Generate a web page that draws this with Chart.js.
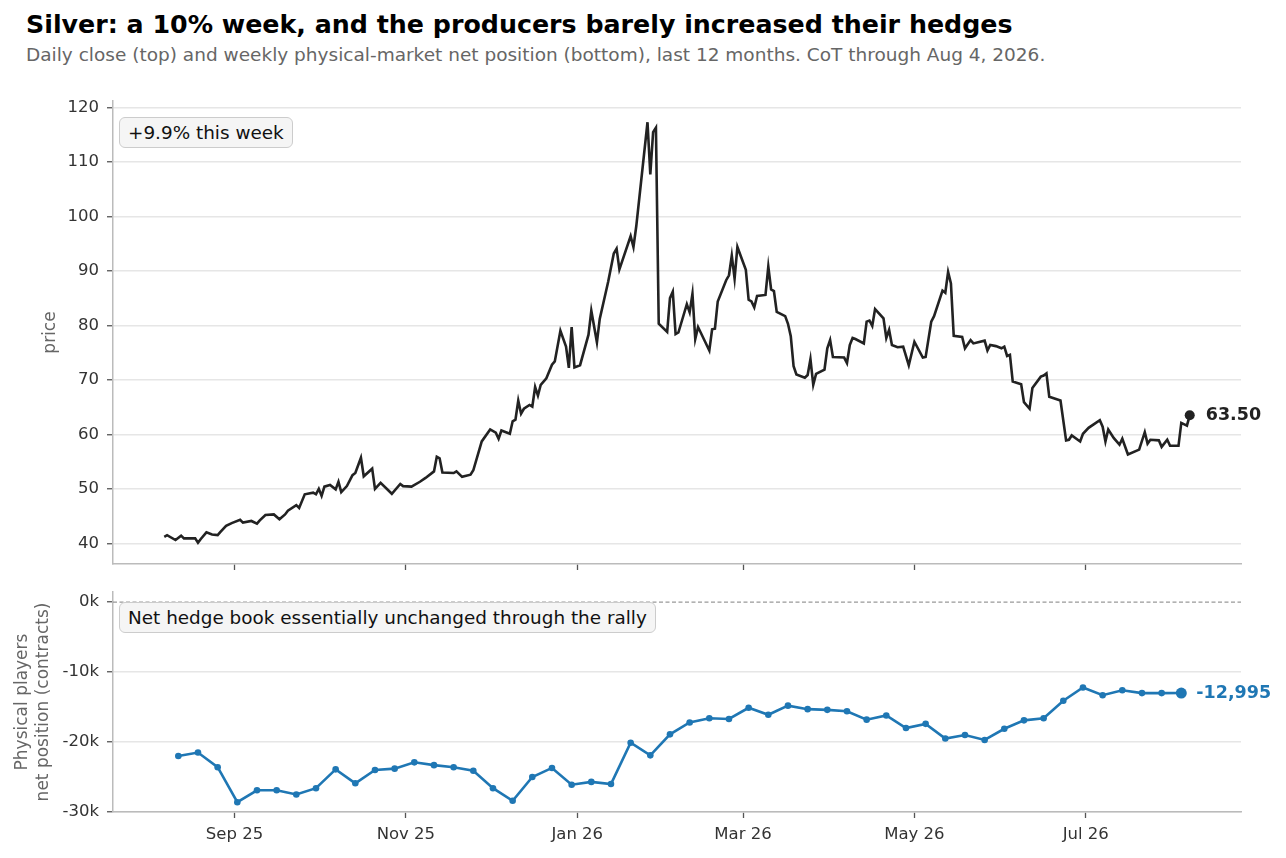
<!DOCTYPE html>
<html lang="en">
<head>
<meta charset="UTF-8">
<title>Silver: price and physical-market net position</title>
<script src="https://cdn.jsdelivr.net/npm/chart.js"></script>
<style>
  body { margin: 0; background: #fff; font-family: "DejaVu Sans", sans-serif; }
  #page { position: relative; width: 1286px; height: 858px; overflow: hidden; }
  .title { position: absolute; left: 26px; top: 12px; font-size: 25.3px; line-height: 25px; font-weight: bold; color: #000; white-space: nowrap; }
  .subtitle { position: absolute; left: 26px; top: 46px; font-size: 18.5px; line-height: 18px; color: #666; white-space: nowrap; }
  canvas { position: absolute; left: 0; }
  .note { position: absolute; left: 119px; height: 29px; padding: 0 8px; display: flex; align-items: center;
          background: #f5f5f5; border: 1.5px solid #ccc; border-radius: 6px; font-size: 18.4px; color: #111; white-space: nowrap; }
</style>
</head>
<body>
<div id="page">
  <div class="title">Silver: a 10% week, and the producers barely increased their hedges</div>
  <div class="subtitle">Daily close (top) and weekly physical-market net position (bottom), last 12 months. CoT through Aug 4, 2026.</div>
  <canvas id="priceChart" width="1286" height="590" style="top:0"></canvas>
  <canvas id="cotChart" width="1286" height="278" style="top:580px"></canvas>
  <div class="note" style="top:117px">+9.9% this week</div>
  <div class="note" style="top:602px">Net hedge book essentially unchanged through the rally</div>
</div>

<script>
    // daily close, turning points of the line; days are calendar days after startDate
    const startDate = '2025-08-07';
    const priceDay = [0, 1, 4, 6, 7, 11, 12, 13, 15, 17, 19, 20, 22, 24, 27, 28, 31, 33, 34, 36,
        39, 41, 43, 44, 47, 48, 50, 53, 54, 55, 56, 57, 59, 61, 62, 63, 65, 67, 68, 70,
        71, 74, 75, 77, 81, 84, 85, 88, 91, 93, 96, 97, 98, 99, 103, 104, 106, 109, 110, 113,
        116, 118, 119, 120, 123, 124, 125, 126, 127, 128, 130, 131, 132, 133, 134, 136, 138, 139, 141, 143,
        144, 145, 146, 148, 151, 152, 154, 155, 158, 160, 161, 162, 166, 167, 168, 172, 173, 174, 175, 176,
        179, 180, 181, 182, 183, 186, 187, 188, 189, 190, 194, 195, 196, 197, 200, 201, 202, 203, 204, 207,
        208, 209, 210, 211, 214, 215, 216, 217, 218, 221, 222, 223, 224, 225, 228, 229, 230, 231, 232, 235,
        236, 237, 238, 242, 243, 244, 245, 246, 249, 250, 251, 252, 253, 256, 257, 258, 259, 261, 263, 265,
        267, 270, 271, 273, 274, 277, 278, 279, 280, 281, 284, 285, 287, 288, 292, 293, 294, 296, 298, 299,
        300, 301, 302, 305, 306, 308, 309, 312, 313, 314, 315, 319, 321, 322, 323, 326, 327, 329, 333, 334,
        335, 336, 338, 340, 341, 343, 347, 349, 350, 351, 354, 355, 357, 358, 361, 362, 364, 365];
    const priceClose = [41.2, 41.5, 40.6, 41.4, 40.9, 40.9, 40.1, 40.8, 42.0, 41.6, 41.5, 42.1, 43.2, 43.7, 44.3, 43.8, 44.1, 43.6, 44.2, 45.2,
        45.3, 44.4, 45.3, 46.0, 47.0, 46.5, 49.0, 49.3, 49.0, 50.0, 48.7, 50.4, 50.7, 49.9, 51.3, 49.4, 50.5, 52.5, 52.9, 55.7,
        52.3, 53.7, 50.0, 51.1, 49.1, 50.9, 50.5, 50.4, 51.3, 52.0, 53.2, 55.9, 55.6, 53.0, 52.9, 53.2, 52.2, 52.6, 53.4, 58.7,
        60.9, 60.3, 59.2, 60.7, 60.1, 62.4, 62.7, 66.2, 63.8, 64.7, 65.4, 65.1, 68.7, 67.1, 69.1, 70.3, 72.8, 73.4, 79.0, 76.1,
        72.2, 79.7, 72.3, 72.7, 78.3, 82.7, 76.9, 81.2, 88.0, 93.2, 94.1, 90.3, 96.4, 94.4, 98.2, 117.3, 107.7, 115.5, 116.3, 80.3,
        78.8, 85.0, 86.2, 78.4, 78.7, 83.9, 82.4, 85.8, 77.5, 79.7, 75.4, 79.3, 79.4, 84.4, 88.3, 89.2, 92.8, 88.6, 94.4, 90.2,
        84.7, 84.4, 83.3, 85.4, 85.6, 90.8, 86.6, 86.3, 82.5, 81.7, 80.3, 78.0, 72.5, 71.0, 70.4, 70.9, 73.8, 69.1, 71.1, 71.9,
        75.8, 77.3, 74.2, 74.1, 73.1, 76.4, 77.7, 77.5, 76.7, 80.7, 80.9, 79.9, 83.0, 81.3, 77.7, 79.2, 76.4, 76.0, 76.1, 72.7,
        77.0, 74.1, 74.2, 80.7, 81.7, 86.4, 86.0, 89.8, 87.7, 78.1, 77.9, 75.8, 77.3, 76.7, 77.2, 75.4, 76.4, 76.2, 75.8, 76.1,
        74.4, 74.6, 69.7, 69.2, 65.9, 64.7, 68.5, 70.6, 70.8, 71.2, 66.9, 66.2, 58.9, 59.0, 59.8, 58.7, 60.1, 61.2, 62.6, 61.4,
        58.7, 60.9, 59.3, 58.1, 59.2, 56.3, 57.2, 60.4, 58.3, 59.0, 58.9, 57.7, 59.0, 57.9, 57.9, 62.1, 61.6, 63.50];

    // weekly CoT report dates (Tuesdays) and physical players' net position, contracts
    const cotDates = ['2025-08-12', '2025-08-19', '2025-08-26', '2025-09-02', '2025-09-09', '2025-09-16', '2025-09-23', '2025-09-30',
        '2025-10-07', '2025-10-14', '2025-10-21', '2025-10-28', '2025-11-04', '2025-11-11', '2025-11-18', '2025-11-25',
        '2025-12-02', '2025-12-09', '2025-12-16', '2025-12-23', '2025-12-30', '2026-01-06', '2026-01-13', '2026-01-20',
        '2026-01-27', '2026-02-03', '2026-02-10', '2026-02-17', '2026-02-24', '2026-03-03', '2026-03-10', '2026-03-17',
        '2026-03-24', '2026-03-31', '2026-04-07', '2026-04-14', '2026-04-21', '2026-04-28', '2026-05-05', '2026-05-12',
        '2026-05-19', '2026-05-26', '2026-06-02', '2026-06-09', '2026-06-16', '2026-06-23', '2026-06-30', '2026-07-07',
        '2026-07-14', '2026-07-21', '2026-07-28', '2026-08-04'];
    const netPosition = [-22000, -21500, -23600, -28600, -26900, -26900, -27500, -26600, -23900, -25900,
        -24000, -23800, -22900, -23300, -23600, -24100, -26600, -28400, -25000, -23700,
        -26100, -25700, -26000, -20100, -21900, -18900, -17200, -16600, -16700, -15100,
        -16100, -14800, -15300, -15400, -15600, -16800, -16200, -18000, -17400, -19500,
        -19000, -19700, -18100, -16900, -16600, -14100, -12200, -13300, -12600, -13000,
        -13000, -12995];

    // x axis ticks
    const tickDates = ['2025-09-01', '2025-11-01', '2026-01-01', '2026-03-01', '2026-05-01', '2026-07-01'];
    const tickLabels = ['Sep 25', 'Nov 25', 'Jan 26', 'Mar 26', 'May 26', 'Jul 26'];
    const priceTicks = [40, 50, 60, 70, 80, 90, 100, 110, 120];
    const netTicks = [-30000, -20000, -10000, 0];

    const BLUE = '#1f77b4';
    const tickFont = { family: 'DejaVu Sans', size: 16.5 };

    function dayNum(iso) {
        return (Date.parse(iso + 'T00:00:00Z') - Date.parse(startDate + 'T00:00:00Z')) / 86400000;
    }
    const tickDays = tickDates.map(dayNum);
    const span = priceDay[priceDay.length - 1] - priceDay[0];
    const xMin = priceDay[0] - span * 0.05;
    const xMax = priceDay[priceDay.length - 1] + span * 0.05;

    function xAxis(showLabels, height) {
        return {
            type: 'linear', min: xMin, max: xMax,
            afterBuildTicks: s => { s.ticks = tickDays.map(v => ({ value: v })); },
            afterFit: s => { s.height = height; s.paddingLeft = 0; s.paddingRight = 0; },
            grid: { drawOnChartArea: false, drawTicks: true, tickLength: 6, tickColor: '#555', tickWidth: 1.3 },
            border: { display: true, color: '#bbb', width: 1.5 },
            ticks: { display: showLabels, autoSkip: false, maxRotation: 0, padding: 7, color: '#333', font: tickFont,
                callback: (v, i) => tickLabels[i] }
        };
    }

    function yAxis(min, max, ticks, fmt, title, pad) {
        return {
            min: min, max: max,
            afterBuildTicks: s => { s.ticks = ticks.map(v => ({ value: v })); },
            afterFit: s => { s.width = 113; s.paddingTop = 0; s.paddingBottom = 0; },
            grid: { color: c => (c.tick && c.tick.value === 0 ? 'rgba(0,0,0,0)' : '#e6e6e6'), lineWidth: 1.5,
                tickColor: '#555', tickLength: 6, tickWidth: 1.3 },
            border: { display: true, color: '#bbb', width: 1.5 },
            ticks: { color: '#333', font: tickFont, padding: 8, callback: fmt },
            title: { display: true, text: title, color: '#666', font: { family: 'DejaVu Sans', size: 17, lineHeight: 1.25 },
                padding: { top: pad, bottom: 0 } }
        };
    }

    // bold value next to the last point
    function endLabel(text, color, dx) {
        return {
            id: 'endLabel',
            afterDatasetsDraw(chart) {
                const pts = chart.getDatasetMeta(0).data;
                const p = pts[pts.length - 1];
                const ctx = chart.ctx;
                ctx.save();
                ctx.font = 'bold 17.5px "DejaVu Sans"';
                ctx.fillStyle = color;
                ctx.textBaseline = 'middle';
                ctx.fillText(text, p.x + dx, p.y);
                ctx.restore();
            }
        };
    }

    const zeroLine = {
        id: 'zeroLine',
        beforeDatasetsDraw(chart) {
            const { ctx, chartArea: a, scales: { y } } = chart;
            const py = y.getPixelForValue(0);
            ctx.save();
            ctx.strokeStyle = '#999';
            ctx.lineWidth = 1.3;
            ctx.setLineDash([4, 2.5]);
            ctx.beginPath();
            ctx.moveTo(a.left, py);
            ctx.lineTo(a.right, py);
            ctx.stroke();
            ctx.restore();
        }
    };

    const lastPrice = priceClose.length - 1;
    new Chart(document.getElementById('priceChart'), {
        type: 'line',
        data: {
            datasets: [{
                data: priceDay.map((d, i) => ({ x: d, y: priceClose[i] })),
                borderColor: '#222',
                backgroundColor: '#222',
                borderWidth: 2.6,
                tension: 0,
                pointRadius: c => (c.dataIndex === lastPrice ? 5 : 0),
                pointBorderWidth: 0
            }]
        },
        options: {
            responsive: false,
            animation: false,
            layout: { padding: { top: 101, right: 45, left: 0, bottom: 0 } },
            plugins: { legend: { display: false }, tooltip: { enabled: false } },
            scales: {
                x: xAxis(false, 26),
                y: yAxis(36.2, 121.2, priceTicks, v => String(v), 'price', 40)
            }
        },
        plugins: [endLabel(priceClose[lastPrice].toFixed(2), '#222', 16)]
    });

    const lastNet = netPosition.length - 1;
    new Chart(document.getElementById('cotChart'), {
        type: 'line',
        data: {
            datasets: [{
                data: cotDates.map((d, i) => ({ x: dayNum(d), y: netPosition[i] })),
                borderColor: BLUE,
                backgroundColor: BLUE,
                borderWidth: 2.6,
                tension: 0,
                pointRadius: c => (c.dataIndex === lastNet ? 5.5 : 3.3),
                pointBorderWidth: 0
            }]
        },
        options: {
            responsive: false,
            animation: false,
            layout: { padding: { top: 12, right: 45, left: 0, bottom: 0 } },
            plugins: { legend: { display: false }, tooltip: { enabled: false } },
            scales: {
                x: xAxis(true, 46),
                y: yAxis(-30000, 1450, netTicks, v => (v / 1000) + 'k',
                    ['Physical players', 'net position (contracts)'], 12)
            }
        },
        plugins: [zeroLine, endLabel(netPosition[lastNet].toLocaleString('en-US'), BLUE, 15)]
    });
</script>
</body>
</html>
